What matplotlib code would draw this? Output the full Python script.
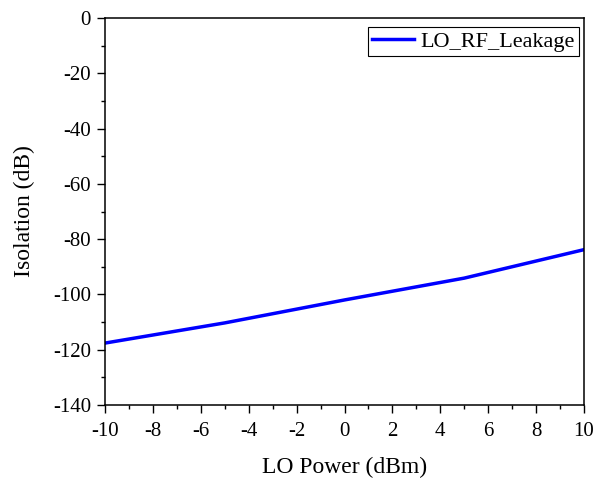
import matplotlib
matplotlib.use("Agg")
import matplotlib.pyplot as plt
from matplotlib.ticker import MultipleLocator

lo_power = [-10, -5, 0, 5, 10]
leakage = [-117.6, -110.3, -102.0, -94.1, -83.8]
series_name = "LO_RF_Leakage"

plt.rcParams['font.family'] = ['Liberation Serif', 'DejaVu Serif']
plt.rcParams['axes.unicode_minus'] = False

fig = plt.figure(figsize=(5.95, 4.79), dpi=100)
ax = fig.add_axes([105/595, 1-405/479, 479/595, 387/479])
ax.plot(lo_power, leakage, color='#0000ff', lw=2.5, label=series_name)

ax.set_xlim(-10, 10)
ax.set_ylim(-140, 0)
ax.xaxis.set_major_locator(MultipleLocator(2))
ax.xaxis.set_minor_locator(MultipleLocator(1))
ax.yaxis.set_major_locator(MultipleLocator(20))
ax.yaxis.set_minor_locator(MultipleLocator(10))
ax.tick_params(which='both', direction='out', top=False, right=False, labelsize=15, width=1)
ax.tick_params(which='major', length=6, pad=4)
ax.tick_params(axis='x', which='major', pad=6)
ax.tick_params(which='minor', length=3)
for s in ax.spines.values():
    s.set_linewidth(1.1)

ax.set_xlabel("LO Power (dBm)", fontsize=17, labelpad=12)
ax.set_ylabel("Isolation (dB)", fontsize=17, labelpad=13)

leg = ax.legend(loc='upper right', fontsize=16, frameon=True, fancybox=False,
                edgecolor='black', framealpha=1, handlelength=1.9,
                borderpad=0.18, handletextpad=0.3, borderaxespad=0,
                bbox_to_anchor=(579/595, 1-27/479), bbox_transform=fig.transFigure)
leg.get_frame().set_linewidth(0.8)

fig.savefig("out.png", dpi=100)
